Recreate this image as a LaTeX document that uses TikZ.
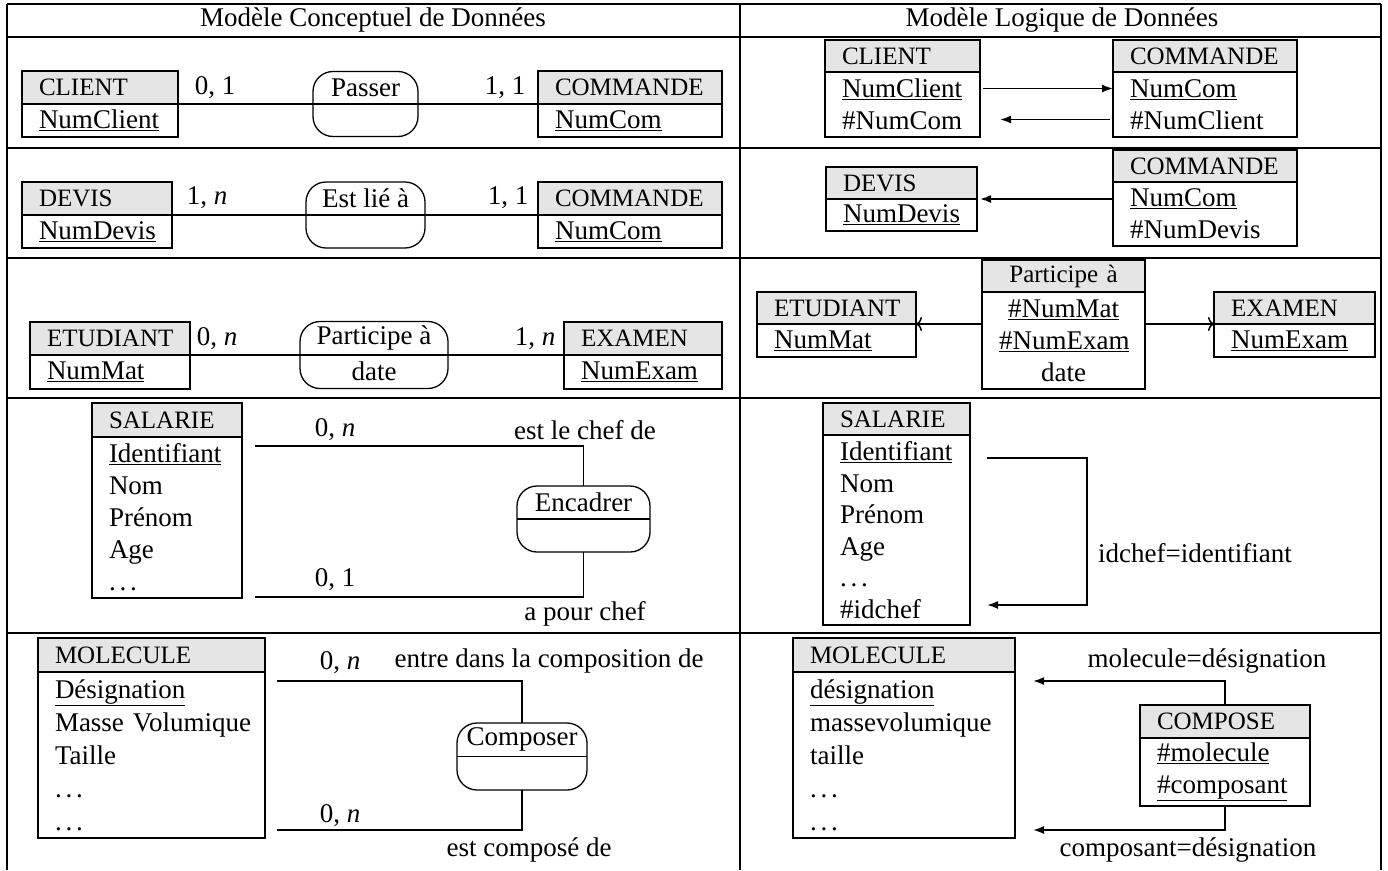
\documentclass[tikz,border=0pt]{standalone}
\usepackage{fontspec}
\setmainfont{Liberation Serif}
\usetikzlibrary{arrows.meta,calc}

\newcommand{\pts}{.\hspace{0.14em}.\hspace{0.14em}.}

\tikzset{
    entete/.style={draw, fill=gray!20, anchor=north west, outer sep=0pt, inner xsep=17pt, inner ysep=0pt, minimum height=33pt, text width=#1, align=left, font=\fontsize{25}{32}\selectfont},
    corps/.style={draw, fill=white, anchor=north west, outer sep=0pt, inner xsep=17pt, inner ysep=0pt, text width=#1, align=left},
    relation/.style={draw, rounded corners=20pt, outer sep=0pt, inner sep=0pt},
    fleche/.style={line width=1.8pt, -{Latex[length=11pt,width=8pt]}},
    ouvert/.style={line width=1.5pt, -{To[length=6pt,width=14pt]}},
}

\begin{document}
\begin{tikzpicture}[x=1pt, y=-1pt, line width=1.3pt, font=\fontsize{27}{32}\selectfont]
    \useasboundingbox (0,0) rectangle (1388,870);
    \foreach \y in {4,37,148,258,398,633} {
    \draw (7,\y) -- (1381,\y);
}
    \foreach \x in {7,740,1381} {
    \draw (\x,4) -- (\x,870);
}
    \node (mcd) at (373,20) {Modèle Conceptuel de Données};
    \node (mld) at (1062,20) {Modèle Logique de Données};

    % MCD
    \node[entete=122pt] (cli1T) at (22,71) {CLIENT};
    \node[corps=122pt, minimum height=33pt] (cli1C) at (cli1T.south west) {\underline{NumClient}};
    \node[entete=150pt] (cmd1T) at (538,71) {COMMANDE};
    \node[corps=150pt, minimum height=33pt] (cmd1C) at (cmd1T.south west) {\underline{NumCom}};
    \node[relation, minimum width=105pt, minimum height=65pt] (passer) at (365.5,104) {};
    \node (passerN) at ($(passer.center)!0.5!(passer.north)$) {Passer};
    \draw (cli1T.south east) -- (passer.west) -- (passer.east) -- (cmd1T.south west);
    \node (c1a) at (215,88) {0, 1};
    \node (c1b) at (505,88) {1, 1};

    \node[entete=116pt] (dev2T) at (22,182) {DEVIS};
    \node[corps=116pt, minimum height=33pt] (dev2C) at (dev2T.south west) {\underline{NumDevis}};
    \node[entete=150pt] (cmd2T) at (538,182) {COMMANDE};
    \node[corps=150pt, minimum height=33pt] (cmd2C) at (cmd2T.south west) {\underline{NumCom}};
    \node[relation, minimum width=119pt, minimum height=66pt] (estlie) at (365.5,215) {};
    \node (estlieN) at ($(estlie.center)!0.5!(estlie.north)$) {Est lié à};
    \draw (dev2T.south east) -- (estlie.west) -- (estlie.east) -- (cmd2T.south west);
    \node (c2a) at (207,198) {1, \textit{n}};
    \node (c2b) at (508,198) {1, 1};

    \node[entete=126pt] (etu3T) at (30,322) {ETUDIANT};
    \node[corps=126pt, minimum height=34pt] (etu3C) at (etu3T.south west) {\underline{NumMat}};
    \node[entete=124pt] (exa3T) at (564,322) {EXAMEN};
    \node[corps=124pt, minimum height=34pt] (exa3C) at (exa3T.south west) {\underline{NumExam}};
    \node[relation, minimum width=148pt, minimum height=67pt] (participe) at (374,355) {};
    \node (participeN) at ($(participe.center)!0.5!(participe.north)$) {Participe à};
    \node (participeD) at ($(participe.center)!0.5!(participe.south)$) {date};
    \draw (etu3T.south east) -- (participe.west) -- (participe.east) -- (exa3T.south west);
    \node (c3a) at (217,339) {0, \textit{n}};
    \node (c3b) at (535,339) {1, \textit{n}};

    \node[entete=116pt, minimum height=34pt] (sal4T) at (92,403) {SALARIE};
    \node[corps=116pt, minimum height=161pt] (sal4C) at (sal4T.south west) {\underline{Identifiant}\\Nom\\Prénom\\Age\\\pts};
    \node[relation, minimum width=133pt, minimum height=66pt] (encadrer) at (583.5,519) {};
    \node (encadrerN) at ($(encadrer.center)!0.5!(encadrer.north)$) {Encadrer};
    \draw (encadrer.west) -- (encadrer.east);
    \coordinate (salA) at (255,446);
    \coordinate (salB) at (255,597);
    \draw (salA) -| (encadrer.north);
    \draw (encadrer.south) |- (salB);
    \node (c4a) at (335,430) {0, \textit{n}};
    \node (c4b) at (585,430) {est le chef de};
    \node (c4c) at (335,580) {0, 1};
    \node (c4d) at (585,614) {a pour chef};

    \node[entete=193pt, minimum height=34pt] (mol5T) at (38,638) {MOLECULE};
    \node[corps=193pt, minimum height=166pt, font=\fontsize{27}{33}\selectfont] (mol5C) at (mol5T.south west) {\underline{Désignation}\\\mbox{Masse Volumique}\\Taille\\\pts\\\pts};
    \node[relation, minimum width=130pt, minimum height=67pt] (composer) at (522,756.5) {};
    \node (composerN) at ($(composer.center)!0.5!(composer.north)$) {Composer};
    \draw (composer.west) -- (composer.east);
    \coordinate (molcA) at (277,681);
    \coordinate (molcB) at (277,830);
    \draw (molcA) -| (composer.north);
    \draw (composer.south) |- (molcB);
    \node (c5a) at (340,663) {0, \textit{n}};
    \node (c5b) at (549,661) {entre dans la composition de};
    \node (c5c) at (340,816) {0, \textit{n}};
    \node (c5d) at (529,850) {est composé de};

    % MLD
    \node[entete=121pt, minimum height=32pt] (cli1mT) at (825,40) {CLIENT};
    \node[corps=121pt, minimum height=65pt] (cli1mC) at (cli1mT.south west) {\underline{NumClient}\\\#NumCom};
    \node[entete=150pt, minimum height=32pt] (cmd1mT) at (1113,40) {COMMANDE};
    \node[corps=150pt, minimum height=65pt] (cmd1mC) at (cmd1mT.south west) {\underline{NumCom}\\\#NumClient};
    \draw[fleche] ([xshift=3pt,yshift=16pt]cli1mC.east) -- ([yshift=16pt]cmd1mC.west);
    \draw[fleche] ([xshift=-3pt,yshift=-15pt]cmd1mC.west) -- ([xshift=20pt,yshift=-15pt]cli1mC.east);

    \node[entete=117pt, minimum height=32pt] (dev2mT) at (826,167) {DEVIS};
    \node[corps=117pt, minimum height=32pt] (dev2mC) at (dev2mT.south west) {\underline{NumDevis}};
    \node[entete=150pt, minimum height=32pt] (cmd2mT) at (1113,150) {COMMANDE};
    \node[corps=150pt, minimum height=64pt] (cmd2mC) at (cmd2mT.south west) {\underline{NumCom}\\\#NumDevis};
    \draw[fleche] (cmd2mC.west |- dev2mT.south east) -- ([xshift=3pt]dev2mT.south east);

    \node[entete=125pt, minimum height=32pt] (etu3mT) at (757,292) {ETUDIANT};
    \node[corps=125pt, minimum height=33pt] (etu3mC) at (etu3mT.south west) {\underline{NumMat}};
    \node[entete=129pt, minimum height=32pt, align=center] (par3mT) at (982,260) {Participe à};
    \node[corps=129pt, minimum height=97pt, align=center] (par3mC) at (par3mT.south west) {\underline{\#NumMat}\\\underline{\#NumExam}\\date};
    \node[entete=127pt, minimum height=32pt] (exa3mT) at (1214,292) {EXAMEN};
    \node[corps=127pt, minimum height=33pt] (exa3mC) at (exa3mT.south west) {\underline{NumExam}};
    \draw[ouvert] (par3mC.west |- etu3mT.south east) -- (etu3mT.south east);
    \draw[ouvert] (par3mC.east |- exa3mT.south west) -- (exa3mT.south west);

    \node[entete=113pt, minimum height=32pt] (sal4mT) at (823,403) {SALARIE};
    \node[corps=113pt, minimum height=190pt, font=\fontsize{27}{31.5}\selectfont] (sal4mC) at (sal4mT.south west) {\underline{Identifiant}\\Nom\\Prénom\\Age\\\pts\\\#idchef};
    \coordinate (idA) at (987,458);
    \coordinate (idB) at (987,605);
    \draw[fleche] (idA) -- ++(100,0) |- (idB);
    \node (idchef) at (1195,553) {idchef=identifiant};

    \node[entete=188pt, minimum height=34pt] (mol5mT) at (793,638) {MOLECULE};
    \node[corps=188pt, minimum height=166pt, font=\fontsize{27}{33}\selectfont] (mol5mC) at (mol5mT.south west) {\underline{désignation}\\massevolumique\\taille\\\pts\\\pts};
    \node[entete=136pt] (com5mT) at (1140,705) {COMPOSE};
    \node[corps=136pt, minimum height=68pt] (com5mC) at (com5mT.south west) {\underline{\#molecule}\\\underline{\#composant}};
    \coordinate (molA) at (1033,681);
    \coordinate (molB) at (1033,830);
    \draw[fleche] (com5mT.north) |- (molA);
    \draw[fleche] (com5mC.south) |- (molB);
    \node (molD) at (1207,661) {molecule=désignation};
    \node (compD) at (1188,850) {composant=désignation};
\end{tikzpicture}
\end{document}
